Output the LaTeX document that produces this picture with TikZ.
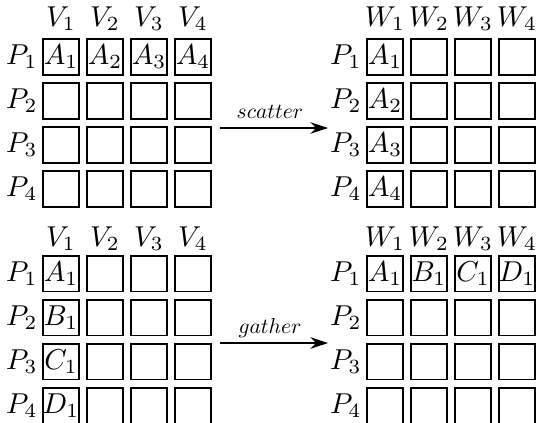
\documentclass[tikz,border=0pt]{standalone}
\usepackage{graphicx}
\usetikzlibrary{arrows.meta}
\newcommand{\gtxt}[1]{\scalebox{1.15}{#1}}
\newcommand{\otxt}[1]{\scalebox{0.86}{#1}}
\begin{document}
\begin{tikzpicture}[x=0.4pt,y=-0.4pt,
  cell/.style={draw, line width=0.7pt, minimum size=14.3pt, inner sep=0pt},
  hdr/.style={anchor=base, inner sep=0pt},
  rowlbl/.style={anchor=east, inner sep=0pt},
  flow/.style={-{Stealth[length=7pt,width=4.6pt]}, line width=0.7pt},
  oplbl/.style={anchor=base, yshift=4pt, xshift=-1.6pt, inner sep=0pt}
  ]
\useasboundingbox (0,0) rectangle (537,422);

% ---------- top left (before scatter)
\foreach \c/\x in {1/61,2/105,3/149,4/193}{
  \node[hdr] (tlh-\c) at (\x,26.5) {\gtxt{$V_{\c}$}};
  \foreach \r/\y in {1/57,2/101,3/145,4/189}{
    \node[cell] (tl-\r-\c) at (\x,\y) {\ifnum\r=1 \gtxt{$A_{\c}$}\fi};
  }
}
\foreach \r/\y in {1/57,2/101,3/145,4/189}{
  \node[rowlbl] (tlp-\r) at (38,\y) {\gtxt{$P_{\r}$}};
}

% ---------- top right (after scatter)
\foreach \c/\x in {1/385,2/429,3/473,4/517}{
  \node[hdr] (trh-\c) at (\x,26.5) {\gtxt{$W_{\c}$}};
  \foreach \r/\y in {1/57,2/101,3/145,4/189}{
    \node[cell] (tr-\r-\c) at (\x,\y) {\ifnum\c=1 \gtxt{$A_{\r}$}\fi};
  }
}
\foreach \r/\y in {1/57,2/101,3/145,4/189}{
  \node[rowlbl] (trp-\r) at (362,\y) {\gtxt{$P_{\r}$}};
}

% ---------- bottom left (before gather)
\foreach \c/\x in {1/61,2/105,3/149,4/193}{
  \node[hdr] (blh-\c) at (\x,246) {\gtxt{$V_{\c}$}};
  \foreach \r/\y/\L in {1/273.5/A,2/317.5/B,3/361.5/C,4/405.5/D}{
    \node[cell] (bl-\r-\c) at (\x,\y) {\ifnum\c=1 \gtxt{$\L_{1}$}\fi};
  }
}
\foreach \r/\y in {1/273.5,2/317.5,3/361.5,4/405.5}{
  \node[rowlbl] (blp-\r) at (38,\y) {\gtxt{$P_{\r}$}};
}

% ---------- bottom right (after gather)
\foreach \c/\x/\L in {1/385/A,2/429/B,3/473/C,4/517/D}{
  \node[hdr] (brh-\c) at (\x,246) {\gtxt{$W_{\c}$}};
  \foreach \r/\y in {1/273.5,2/317.5,3/361.5,4/405.5}{
    \node[cell] (br-\r-\c) at (\x,\y) {\ifnum\r=1 \gtxt{$\L_{1}$}\fi};
  }
}
\foreach \r/\y in {1/273.5,2/317.5,3/361.5,4/405.5}{
  \node[rowlbl] (brp-\r) at (362,\y) {\gtxt{$P_{\r}$}};
}

% ---------- arrows
\coordinate (sa) at (220,128);
\coordinate (sb) at (328,128);
\draw[flow] (sa) -- node[oplbl] {\otxt{$scatter$}} (sb);

\coordinate (ga) at (220,343);
\coordinate (gb) at (328,343);
\draw[flow] (ga) -- node[oplbl] {\otxt{$gather$}} (gb);
\end{tikzpicture}
\end{document}
